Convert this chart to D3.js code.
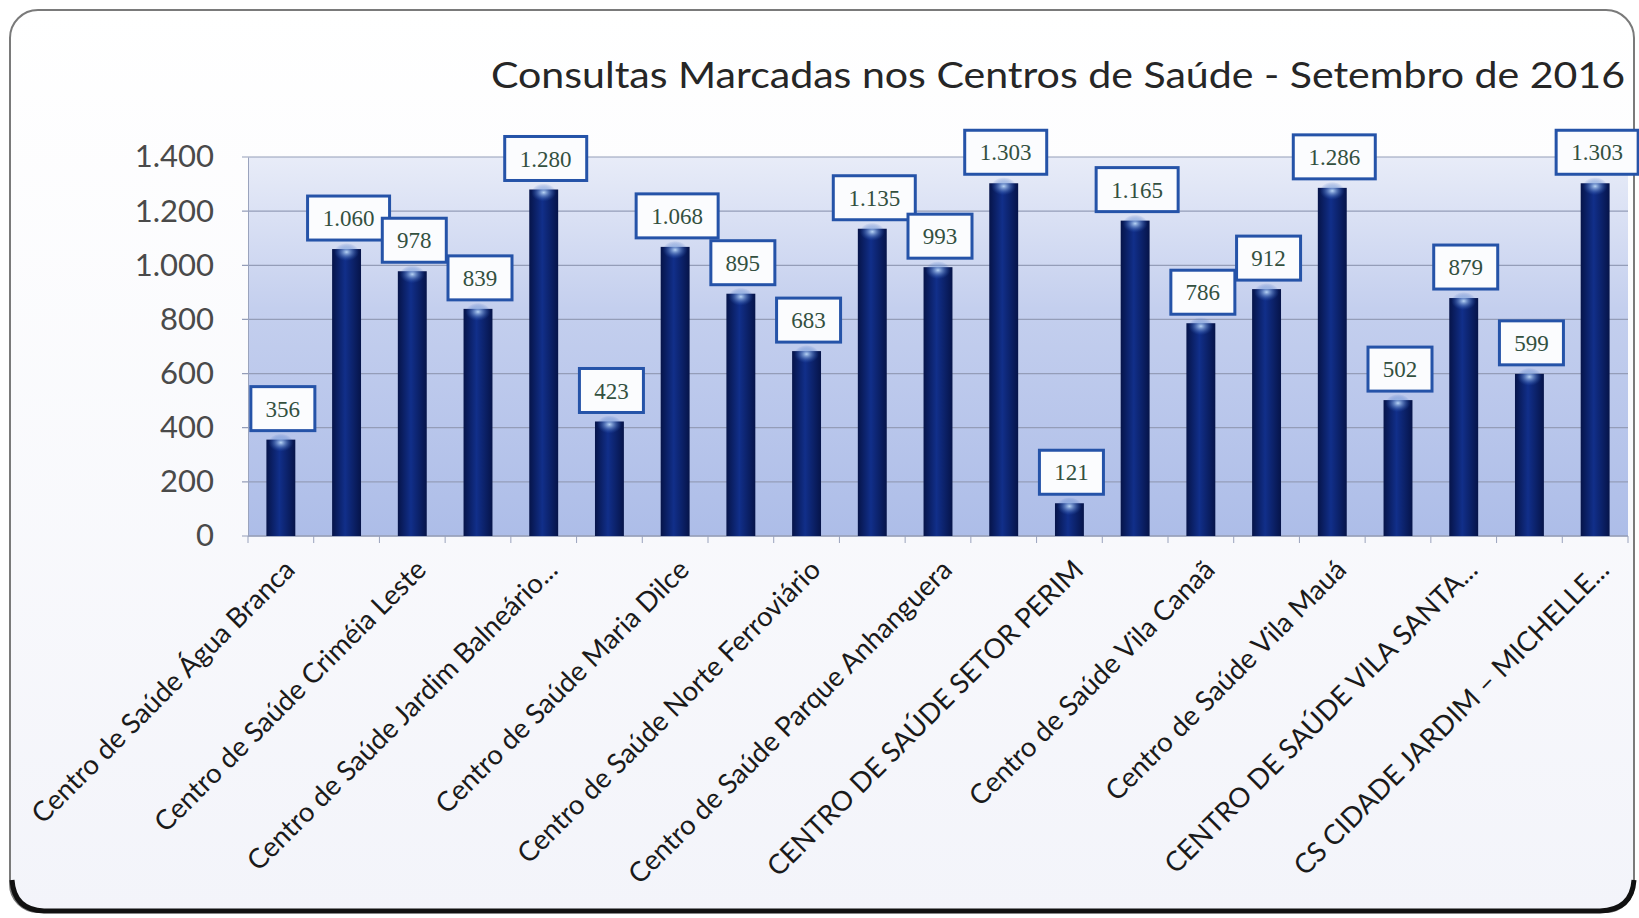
<!DOCTYPE html>
<html>
<head>
<meta charset="utf-8">
<script src="https://cdn.jsdelivr.net/npm/d3@7"></script>
<style>
  html, body { margin: 0; padding: 0; background: #ffffff; }
  svg { display: block; }
</style>
</head>
<body>
<div id="chart"></div>
<script>
// data
var centros = [
  "Centro de Saúde Água Branca", "c2", "Centro de Saúde Criméia Leste", "c4",
  "Centro de Saúde Jardim Balneário...", "c6", "Centro de Saúde Maria Dilce", "c8",
  "Centro de Saúde Norte Ferroviário", "c10", "Centro de Saúde Parque Anhanguera", "c12",
  "CENTRO DE SAÚDE SETOR PERIM", "c14", "Centro de Saúde Vila Canaã", "c16",
  "Centro de Saúde Vila Mauá", "c18", "CENTRO DE SAÚDE VILA SANTA...", "c20",
  "CS CIDADE JARDIM – MICHELLE..."
];
var consultas = [356, 1060, 978, 839, 1280, 423, 1068, 895, 683, 1135, 993,
                 1303, 121, 1165, 786, 912, 1286, 502, 879, 599, 1303];
var yTicks = [0, 200, 400, 600, 800, 1000, 1200, 1400];
var titulo = "Consultas Marcadas nos Centros de Saúde - Setembro de 2016";

function init(){
    var w = 1639, h = 918;
    var svg = d3.select("#chart").append("svg")
        .attr("width", w).attr("height", h);
    var defs = svg.append("defs");

    // gradients
    var bg = defs.append("linearGradient").attr("id", "bgGrad")
        .attr("x1", 0).attr("y1", 0).attr("x2", 0).attr("y2", 1);
    bg.append("stop").attr("offset", "0%").attr("stop-color", "#ffffff");
    bg.append("stop").attr("offset", "100%").attr("stop-color", "#f3f4fa");

    var plotGrad = defs.append("linearGradient").attr("id", "plotGrad")
        .attr("x1", 0).attr("y1", 0).attr("x2", 0).attr("y2", 1);
    plotGrad.append("stop").attr("offset", "0%").attr("stop-color", "#e8ecf8");
    plotGrad.append("stop").attr("offset", "40%").attr("stop-color", "#c4cfee");
    plotGrad.append("stop").attr("offset", "100%").attr("stop-color", "#adbde8");

    var barGrad = defs.append("linearGradient").attr("id", "barGrad")
        .attr("x1", 0).attr("y1", 0).attr("x2", 1).attr("y2", 0);
    barGrad.append("stop").attr("offset", "0%").attr("stop-color", "#061449");
    barGrad.append("stop").attr("offset", "45%").attr("stop-color", "#112f8a");
    barGrad.append("stop").attr("offset", "100%").attr("stop-color", "#061449");

    var glow = defs.append("radialGradient").attr("id", "glow");
    glow.append("stop").attr("offset", "0%").attr("stop-color", "#b8d4f5").attr("stop-opacity", 1);
    glow.append("stop").attr("offset", "100%").attr("stop-color", "#2b59b8").attr("stop-opacity", 0);

    // frame
    svg.append("rect")
        .attr("x", 10).attr("y", 10).attr("width", 1624).attr("height", 902)
        .attr("rx", 28)
        .attr("fill", "url(#bgGrad)")
        .attr("stroke", "#7a7a7a").attr("stroke-width", 2);
    // dark bottom edge
    svg.append("path")
        .attr("d", "M12,880 Q14,910 44,911 L1600,911 Q1632,910 1634,880")
        .attr("fill", "none").attr("stroke", "#111").attr("stroke-width", 5);

    // title
    svg.append("text")
        .attr("x", 491).attr("y", 88)
        .attr("textLength", 1134).attr("lengthAdjust", "spacingAndGlyphs")
        .style("font-family", "Lato, 'Open Sans', sans-serif")
        .style("font-size", "36px")
        .style("fill", "#262626")
        .text(titulo);

    // scales
    var left = 248, right = 1628, top = 157, bottom = 536;
    var xScale = d3.scaleBand()
        .domain(d3.range(consultas.length))
        .range([left, right])
        .paddingInner(0.56).paddingOuter(0.28);
    var yScale = d3.scaleLinear()
        .domain([0, 1400])
        .range([bottom, top]);

    var br = d3.formatLocale({decimal: ",", thousands: ".", grouping: [3], currency: ["R$", ""]});
    var fmt = br.format(",d");

    // plot area
    svg.append("rect")
        .attr("x", left).attr("y", top)
        .attr("width", right - left).attr("height", bottom - top)
        .attr("fill", "url(#plotGrad)");

    // gridlines
    svg.append("g").selectAll("line")
        .data(yTicks).enter().append("line")
        .attr("x1", left - 6).attr("x2", right)
        .attr("y1", d => yScale(d)).attr("y2", d => yScale(d))
        .attr("stroke", "#949db8").attr("stroke-width", 1.2);

    // y axis
    var yAxis = d3.axisLeft(yScale).tickValues(yTicks).tickFormat(fmt).tickSize(0).tickPadding(34);
    var gy = svg.append("g").attr("transform", "translate(" + left + ",0)").call(yAxis);
    gy.select(".domain").attr("stroke", "#9aa3bd");
    gy.selectAll("text")
        .style("font-family", "Lato, sans-serif")
        .style("font-size", "31px")
        .style("fill", "#4a4a4a");

    // x axis baseline + ticks between bars
    var step = xScale.step();
    svg.append("line")
        .attr("x1", left).attr("x2", right)
        .attr("y1", bottom).attr("y2", bottom)
        .attr("stroke", "#9aa3bd").attr("stroke-width", 1.5);
    svg.append("g").selectAll("line")
        .data(d3.range(consultas.length + 1)).enter().append("line")
        .attr("x1", d => left + d * step).attr("x2", d => left + d * step)
        .attr("y1", bottom).attr("y2", bottom + 7)
        .attr("stroke", "#9aa3bd");

    // bars
    var bw = xScale.bandwidth();
    svg.append("g").selectAll("rect")
        .data(consultas).enter().append("rect")
        .attr("x", (d, i) => xScale(i))
        .attr("y", d => yScale(d))
        .attr("width", bw)
        .attr("height", d => bottom - yScale(d))
        .attr("fill", "url(#barGrad)");
    svg.append("g").selectAll("ellipse")
        .data(consultas).enter().append("ellipse")
        .attr("cx", (d, i) => xScale(i) + bw / 2)
        .attr("cy", d => yScale(d) + 3)
        .attr("rx", bw / 2 - 2).attr("ry", 9)
        .attr("fill", "url(#glow)");

    // value labels
    var lab = svg.append("g").selectAll("g")
        .data(consultas).enter().append("g")
        .attr("transform", (d, i) => "translate(" + (xScale(i) + bw / 2 + 2) + "," + (yScale(d) - 31) + ")");
    lab.append("rect")
        .attr("x", d => d >= 1000 ? -41 : -32)
        .attr("width", d => d >= 1000 ? 82 : 64)
        .attr("y", -22).attr("height", 44)
        .attr("fill", "#fbfcfe")
        .attr("stroke", "#2553a8").attr("stroke-width", 3);
    lab.append("text")
        .attr("text-anchor", "middle")
        .attr("dy", "0.35em")
        .style("font-family", "'Liberation Serif', 'DejaVu Serif', serif")
        .style("font-size", "23px")
        .style("fill", "#33503f")
        .text(d => fmt(d));

    // category labels (every other one shown)
    svg.append("g").selectAll("text")
        .data(centros).enter()
        .filter((d, i) => i % 2 == 0)
        .append("text")
        .attr("transform", (d, i) => "translate(" + (xScale(i * 2) + bw / 2 + 1) + ",557) rotate(-45)")
        .attr("text-anchor", "end")
        .attr("dy", "0.75em")
        .style("font-family", "Lato, sans-serif")
        .style("font-size", "27.5px")
        .style("fill", "#1a1a1a")
        .text(d => d);
}
window.onload = init;
</script>
</body>
</html>
